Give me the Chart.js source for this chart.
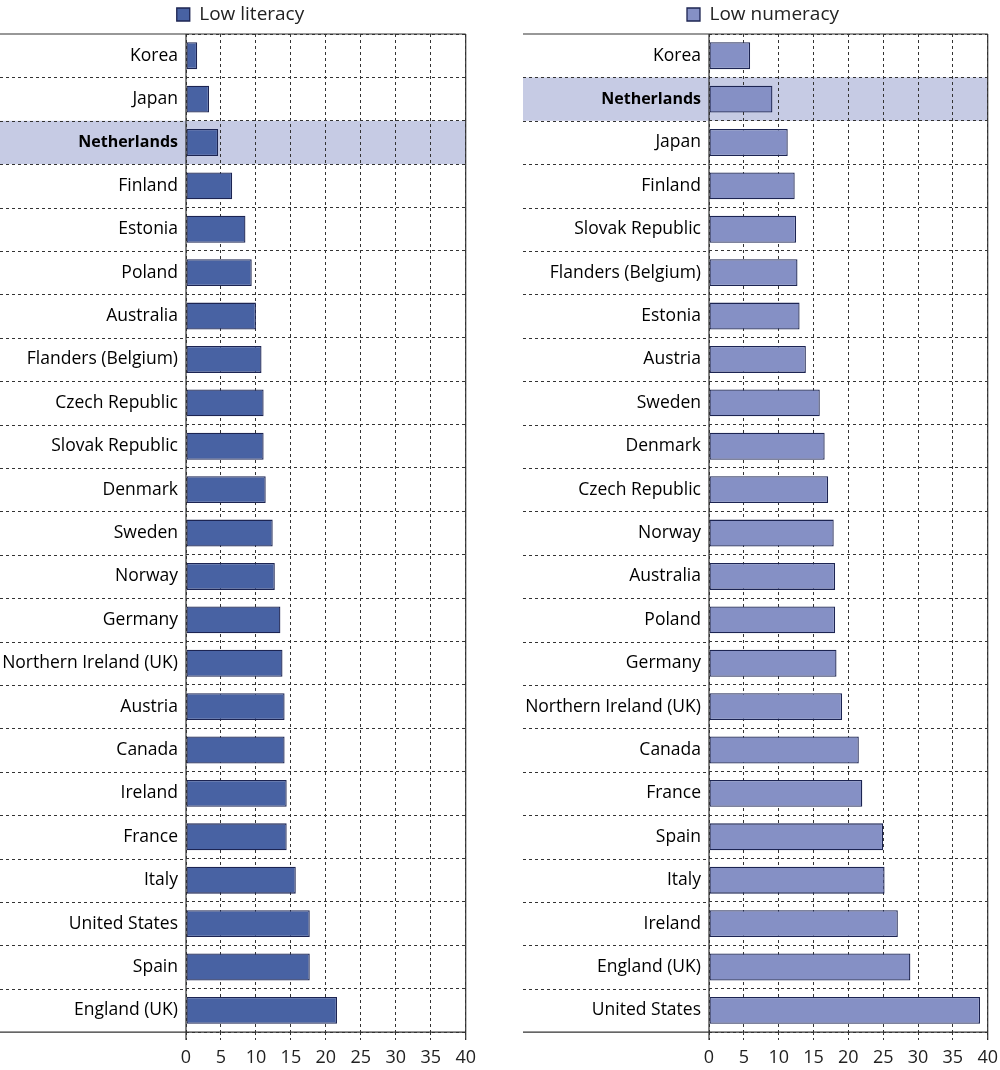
<!DOCTYPE html>
<html>
<head>
<meta charset="utf-8">
<script src="https://cdn.jsdelivr.net/npm/chart.js@4.4.1/dist/chart.umd.min.js"></script>
<style>
  body { margin: 0; background: #fff; overflow: hidden; }
  .panel { position: absolute; top: 0; height: 1076px; }
  #left { left: 0; width: 481px; }
  #right { left: 523px; width: 480px; }
</style>
</head>
<body>
<div class="panel" id="left"><canvas id="c1"></canvas></div>
<div class="panel" id="right"><canvas id="c2"></canvas></div>
<script>
const literacyLabels = ["Korea", "Japan", "Netherlands", "Finland", "Estonia", "Poland", "Australia",
  "Flanders (Belgium)", "Czech Republic", "Slovak Republic", "Denmark", "Sweden", "Norway", "Germany",
  "Northern Ireland (UK)", "Austria", "Canada", "Ireland", "France", "Italy", "United States", "Spain", "England (UK)"]
const literacyValues = [1.6, 3.3, 4.6, 6.6, 8.5, 9.4, 10.0, 10.8, 11.1, 11.1, 11.4, 12.4, 12.7, 13.5,
  13.8, 14.1, 14.1, 14.4, 14.4, 15.7, 17.7, 17.7, 21.6]

const numeracyLabels = ["Korea", "Netherlands", "Japan", "Finland", "Slovak Republic", "Flanders (Belgium)",
  "Estonia", "Austria", "Sweden", "Denmark", "Czech Republic", "Norway", "Australia", "Poland", "Germany",
  "Northern Ireland (UK)", "Canada", "France", "Spain", "Italy", "Ireland", "England (UK)", "United States"]
const numeracyValues = [5.9, 9.1, 11.3, 12.3, 12.5, 12.7, 13.0, 13.9, 15.9, 16.6, 17.1, 17.9, 18.1, 18.1,
  18.3, 19.1, 21.5, 22.0, 25.0, 25.2, 27.1, 28.9, 38.9]

const xTicks = [0, 5, 10, 15, 20, 25, 30, 35, 40]
const highlight = "Netherlands"

const fontName = "'Open Sans', sans-serif"
const lineColor = "#333"

// band behind the highlighted row, frame lines and grid extensions into the label area
const framePlugin = {
  id: "frame",
  beforeDraw(chart) {
    const area = chart.chartArea
    const y = chart.scales.y
    const labels = chart.data.labels
    const rowH = (area.bottom - area.top) / labels.length
    const idx = labels.indexOf(highlight)
    if (idx < 0) return
    const c = y.getPixelForValue(idx)
    const ctx = chart.ctx
    ctx.save()
    ctx.fillStyle = "#c6cbe4"
    ctx.fillRect(0, c - rowH / 2, area.right, rowH)
    ctx.restore()
  },
  afterDraw(chart) {
    const area = chart.chartArea
    const y = chart.scales.y
    const labels = chart.data.labels
    const rowH = (area.bottom - area.top) / labels.length
    const ctx = chart.ctx
    ctx.save()
    ctx.strokeStyle = lineColor
    ctx.lineWidth = 1
    ctx.setLineDash([3, 3])
    for (let i = 1; i < labels.length; i++) {
      const py = Math.round(y.getPixelForValue(i) - rowH / 2) + 0.5
      ctx.beginPath()
      ctx.moveTo(0, py)
      ctx.lineTo(area.left, py)
      ctx.stroke()
    }
    ctx.setLineDash([])
    ctx.lineWidth = 1.2
    ctx.beginPath()
    ctx.moveTo(0, area.top)
    ctx.lineTo(area.right, area.top)
    ctx.moveTo(0, area.bottom)
    ctx.lineTo(area.right, area.bottom)
    ctx.moveTo(area.right, area.top)
    ctx.lineTo(area.right, area.bottom + 8)
    ctx.moveTo(area.left, area.top)
    ctx.lineTo(area.left, area.bottom + 8)
    ctx.stroke()
    ctx.restore()
  }
}

function makeChart(id, labels, values, name, fill) {
  return new Chart(document.getElementById(id), {
    type: "bar",
    data: {
      labels: labels,
      datasets: [{
        label: name,
        data: values,
        backgroundColor: fill,
        borderColor: "#1c2452",
        borderWidth: 1.3,
        borderSkipped: false,
        categoryPercentage: 1,
        barPercentage: 0.62
      }]
    },
    options: {
      indexAxis: "y",
      responsive: true,
      maintainAspectRatio: false,
      animation: false,
      layout: { padding: { top: 0, bottom: 0, left: 0, right: 0 } },
      plugins: {
        legend: {
          position: "top",
          labels: {
            boxWidth: 13,
            boxHeight: 13,
            padding: 5,
            color: "#222",
            font: { family: fontName, size: 19 }
          }
        },
        tooltip: { enabled: false }
      },
      scales: {
        x: {
          min: 0,
          max: 40,
          afterBuildTicks: (scale) => { scale.ticks = xTicks.map(v => ({ value: v })) },
          border: { display: false, dash: [3, 3] },
          grid: { color: lineColor, lineWidth: 1, tickLength: 8, tickBorderDash: [3, 3], tickColor: lineColor },
          ticks: { color: "#222", padding: 5, font: { family: fontName, size: 18, lineHeight: 1.44 } }
        },
        y: {
          afterFit: (scale) => { scale.width = 186 },
          border: { display: false, dash: [3, 3] },
          grid: { color: lineColor, lineWidth: 1, drawTicks: false },
          ticks: {
            color: "#000",
            padding: 8,
            font: (ctx) => labels[ctx.index] === highlight
              ? { family: fontName, size: 16, weight: "bold" }
              : { family: fontName, size: 17.5, weight: "500" }
          }
        }
      }
    },
    plugins: [framePlugin]
  })
}

makeChart("c1", literacyLabels, literacyValues, "Low literacy", "#4862a3")
makeChart("c2", numeracyLabels, numeracyValues, "Low numeracy", "#8590c5")
</script>
</body>
</html>
